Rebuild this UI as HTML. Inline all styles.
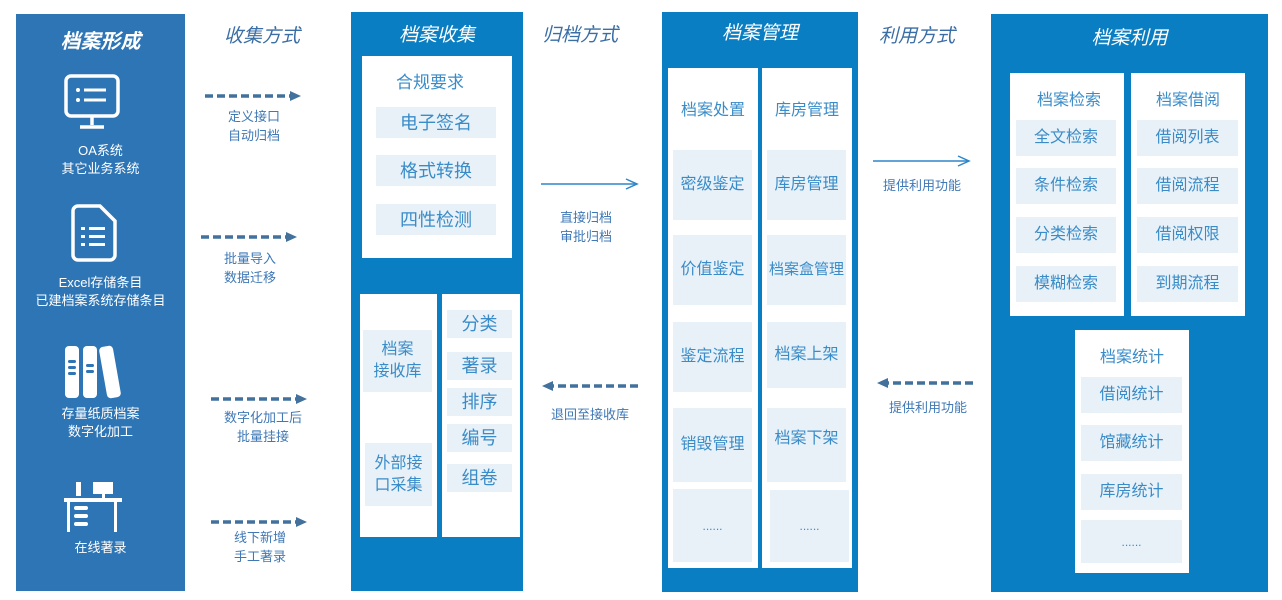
<!DOCTYPE html>
<html><head><meta charset="utf-8"><style>
*{margin:0;padding:0;box-sizing:border-box}
body{width:1282px;height:600px;background:#fff;position:relative;overflow:hidden;font-family:"Liberation Sans","Noto Sans CJK SC",sans-serif}
.a{position:absolute}
.col{position:absolute;background:#0a7ec2}
.t{position:absolute;text-align:center;white-space:nowrap;line-height:1}
.title{font-style:italic;font-size:19px;color:#fff}
.wt{color:#fff;font-size:13px;line-height:18px}
.h{font-style:italic;font-size:19px;color:#3a6ea5}
.lbl{color:#3f78b5;font-size:13px;line-height:19px}
.w{position:absolute;background:#fff}
.it{position:absolute;background:#e8f1f8;color:#3a8cc8;display:flex;align-items:center;justify-content:center;text-align:center;font-size:16px;line-height:22px}
.hd{position:absolute;color:#3a8cc8;font-size:16px;text-align:center;white-space:nowrap}
</style></head><body>

<!-- column 1 -->
<div class="col" style="left:16px;top:14px;width:169px;height:577px;background:#2e75b6"></div>
<div class="t title" style="left:16px;width:169px;top:32px;font-weight:bold;font-size:20px">档案形成</div>
<svg class="a" style="left:60px;top:72px" width="64" height="60" viewBox="0 0 64 60">
<rect x="6" y="4" width="52" height="40" rx="5" fill="none" stroke="#fff" stroke-width="3.5"/>
<line x1="32" y1="44" x2="32" y2="53" stroke="#fff" stroke-width="3.5"/>
<line x1="20" y1="55" x2="44" y2="55" stroke="#fff" stroke-width="3.5"/>
<circle cx="18" cy="18" r="2" fill="#fff"/><circle cx="18" cy="28" r="2" fill="#fff"/>
<line x1="24" y1="18" x2="46" y2="18" stroke="#fff" stroke-width="3"/>
<line x1="24" y1="28" x2="46" y2="28" stroke="#fff" stroke-width="3"/>
</svg>
<div class="t wt" style="left:16px;width:169px;top:142px">OA系统<br>其它业务系统</div>
<svg class="a" style="left:70px;top:203px" width="50" height="60" viewBox="0 0 50 60">
<path d="M8 3 H30 L45 18 V52 a5 5 0 0 1 -5 5 H8 a5 5 0 0 1 -5 -5 V8 a5 5 0 0 1 5 -5z" fill="none" stroke="#fff" stroke-width="3.5"/>
<rect x="11" y="24" width="4" height="3" fill="#fff"/><rect x="19" y="24" width="16" height="3" fill="#fff"/>
<rect x="11" y="32" width="4" height="3" fill="#fff"/><rect x="19" y="32" width="16" height="3" fill="#fff"/>
<rect x="11" y="40" width="4" height="3" fill="#fff"/><rect x="19" y="40" width="16" height="3" fill="#fff"/>
</svg>
<div class="t wt" style="left:16px;width:169px;top:274px">Excel存储条目<br>已建档案系统存储条目</div>
<svg class="a" style="left:63px;top:344px" width="62" height="56" viewBox="0 0 62 56">
<rect x="2" y="2" width="14" height="52" rx="4" fill="#fff"/>
<rect x="20" y="2" width="14" height="52" rx="4" fill="#fff"/>
<rect x="40" y="2" width="14" height="52" rx="4" fill="#fff" transform="rotate(-10 47 28)"/>
<rect x="5" y="16" width="8" height="3" rx="1.5" fill="#2e75b6"/><rect x="5" y="22" width="8" height="3" rx="1.5" fill="#2e75b6"/><rect x="5" y="28" width="8" height="3" rx="1.5" fill="#2e75b6"/>
<rect x="23" y="20" width="8" height="3" rx="1.5" fill="#2e75b6"/><rect x="23" y="26" width="8" height="3" rx="1.5" fill="#2e75b6"/>
</svg>
<div class="t wt" style="left:16px;width:169px;top:405px">存量纸质档案<br>数字化加工</div>
<svg class="a" style="left:62px;top:482px" width="62" height="52" viewBox="0 0 62 52">
<rect x="14" y="0" width="5" height="14" fill="#fff"/>
<rect x="31" y="0" width="20" height="12" fill="#fff"/>
<rect x="40" y="12" width="3" height="4" fill="#fff"/>
<rect x="2" y="16" width="58" height="4" fill="#fff"/>
<rect x="5" y="20" width="3" height="30" fill="#fff"/>
<rect x="52" y="20" width="3" height="30" fill="#fff"/>
<rect x="12" y="24" width="14" height="4" rx="2" fill="#fff"/>
<rect x="12" y="32" width="14" height="4" rx="2" fill="#fff"/>
<rect x="12" y="40" width="14" height="4" rx="2" fill="#fff"/>
</svg>
<div class="t wt" style="left:16px;width:169px;top:539px">在线著录</div>

<!-- 收集方式 -->
<div class="t h" style="left:212px;width:100px;top:27px">收集方式</div>
<svg class="a" style="left:0;top:0" width="1282" height="600">
<defs>
<marker id="tri" markerWidth="12" markerHeight="12" refX="4" refY="5" orient="auto" markerUnits="userSpaceOnUse"><path d="M0 0 L11 5 L0 10z" fill="#41719c"/></marker>
<marker id="open" markerWidth="14" markerHeight="14" refX="12" refY="6" orient="auto" markerUnits="userSpaceOnUse"><path d="M1 1 L12 6 L1 11" fill="none" stroke="#2e86c8" stroke-width="1.5"/></marker>
</defs>
<g stroke="#41719c" stroke-width="3.5" stroke-dasharray="8,4" fill="none">
<line x1="205" y1="96" x2="294" y2="96" marker-end="url(#tri)"/>
<line x1="201" y1="237" x2="290" y2="237" marker-end="url(#tri)"/>
<line x1="211" y1="399" x2="300" y2="399" marker-end="url(#tri)"/>
<line x1="211" y1="522" x2="300" y2="522" marker-end="url(#tri)"/>
<line x1="638" y1="386" x2="549" y2="386" marker-end="url(#tri)"/>
<line x1="973" y1="383" x2="884" y2="383" marker-end="url(#tri)"/>
</g>
<g stroke="#2e86c8" stroke-width="1.5" fill="none">
<line x1="541" y1="184" x2="637" y2="184" marker-end="url(#open)"/>
<line x1="873" y1="161" x2="969" y2="161" marker-end="url(#open)"/>
</g>
</svg>
<div class="t lbl" style="left:204px;width:100px;top:107px">定义接口<br>自动归档</div>
<div class="t lbl" style="left:200px;width:100px;top:249px">批量导入<br>数据迁移</div>
<div class="t lbl" style="left:210px;width:106px;top:408px">数字化加工后<br>批量挂接</div>
<div class="t lbl" style="left:210px;width:100px;top:528px">线下新增<br>手工著录</div>

<!-- 档案收集 -->
<div class="col" style="left:351px;top:12px;width:172px;height:579px"></div>
<div class="t title" style="left:351px;width:172px;top:26px">档案收集</div>
<div class="w" style="left:362px;top:56px;width:150px;height:202px"></div>
<div class="hd" style="left:362px;width:136px;top:68px;font-size:17px">合规要求</div>
<div class="it" style="left:376px;top:107px;width:120px;height:31px;font-size:18px">电子签名</div>
<div class="it" style="left:376px;top:155px;width:120px;height:31px;font-size:18px">格式转换</div>
<div class="it" style="left:376px;top:204px;width:120px;height:31px;font-size:18px">四性检测</div>
<div class="w" style="left:360px;top:294px;width:77px;height:243px"></div>
<div class="it" style="left:363px;top:330px;width:69px;height:62px;font-size:16px">档案<br>接收库</div>
<div class="it" style="left:365px;top:443px;width:67px;height:63px;font-size:16px">外部接<br>口采集</div>
<div class="w" style="left:442px;top:294px;width:78px;height:243px"></div>
<div class="it" style="left:447px;top:310px;width:65px;height:28px;font-size:18px">分类</div>
<div class="it" style="left:447px;top:352px;width:65px;height:28px;font-size:18px">著录</div>
<div class="it" style="left:447px;top:388px;width:65px;height:28px;font-size:18px">排序</div>
<div class="it" style="left:447px;top:424px;width:65px;height:28px;font-size:18px">编号</div>
<div class="it" style="left:447px;top:464px;width:65px;height:28px;font-size:18px">组卷</div>

<!-- 归档方式 -->
<div class="t h" style="left:530px;width:100px;top:26px">归档方式</div>
<div class="t lbl" style="left:536px;width:100px;top:208px">直接归档<br>审批归档</div>
<div class="t lbl" style="left:540px;width:100px;top:405px">退回至接收库</div>

<!-- 档案管理 -->
<div class="col" style="left:662px;top:12px;width:196px;height:580px"></div>
<div class="t title" style="left:662px;width:196px;top:24px">档案管理</div>
<div class="w" style="left:668px;top:68px;width:90px;height:500px"></div>
<div class="w" style="left:762px;top:68px;width:90px;height:500px"></div>
<div class="hd" style="left:668px;width:90px;top:96px">档案处置</div>
<div class="it" style="left:673px;top:150px;width:79px;height:70px">密级鉴定</div>
<div class="it" style="left:673px;top:235px;width:79px;height:70px">价值鉴定</div>
<div class="it" style="left:673px;top:322px;width:79px;height:70px">鉴定流程</div>
<div class="it" style="left:673px;top:408px;width:79px;height:74px">销毁管理</div>
<div class="it" style="left:673px;top:489px;width:79px;height:73px;font-size:12px">......</div>
<div class="hd" style="left:762px;width:90px;top:96px">库房管理</div>
<div class="it" style="left:767px;top:150px;width:79px;height:70px">库房管理</div>
<div class="it" style="left:767px;top:235px;width:79px;height:70px;font-size:15px;overflow:visible;white-space:nowrap">档案盒管理</div>
<div class="it" style="left:767px;top:322px;width:79px;height:66px">档案上架</div>
<div class="it" style="left:767px;top:408px;width:79px;height:74px;align-items:flex-start;padding-top:20px">档案下架</div>
<div class="it" style="left:770px;top:490px;width:79px;height:72px;font-size:12px">......</div>

<!-- 利用方式 -->
<div class="t h" style="left:867px;width:100px;top:27px">利用方式</div>
<div class="t lbl" style="left:872px;width:100px;top:176px">提供利用功能</div>
<div class="t lbl" style="left:878px;width:100px;top:398px">提供利用功能</div>

<!-- 档案利用 -->
<div class="col" style="left:991px;top:14px;width:277px;height:578px"></div>
<div class="t title" style="left:991px;width:277px;top:29px">档案利用</div>
<div class="w" style="left:1010px;top:73px;width:114px;height:243px"></div>
<div class="hd" style="left:1010px;width:118px;top:86px">档案检索</div>
<div class="it" style="left:1016px;top:120px;width:100px;height:36px">全文检索</div>
<div class="it" style="left:1016px;top:168px;width:100px;height:36px">条件检索</div>
<div class="it" style="left:1016px;top:217px;width:100px;height:36px">分类检索</div>
<div class="it" style="left:1016px;top:266px;width:100px;height:36px">模糊检索</div>
<div class="w" style="left:1131px;top:73px;width:114px;height:243px"></div>
<div class="hd" style="left:1131px;width:114px;top:86px">档案借阅</div>
<div class="it" style="left:1137px;top:120px;width:101px;height:36px">借阅列表</div>
<div class="it" style="left:1137px;top:168px;width:101px;height:36px">借阅流程</div>
<div class="it" style="left:1137px;top:217px;width:101px;height:36px">借阅权限</div>
<div class="it" style="left:1137px;top:266px;width:101px;height:36px">到期流程</div>
<div class="w" style="left:1075px;top:330px;width:114px;height:243px"></div>
<div class="hd" style="left:1075px;width:114px;top:343px">档案统计</div>
<div class="it" style="left:1081px;top:377px;width:101px;height:36px">借阅统计</div>
<div class="it" style="left:1081px;top:425px;width:101px;height:36px">馆藏统计</div>
<div class="it" style="left:1081px;top:474px;width:101px;height:36px">库房统计</div>
<div class="it" style="left:1081px;top:520px;width:101px;height:43px;font-size:12px">......</div>

</body></html>
